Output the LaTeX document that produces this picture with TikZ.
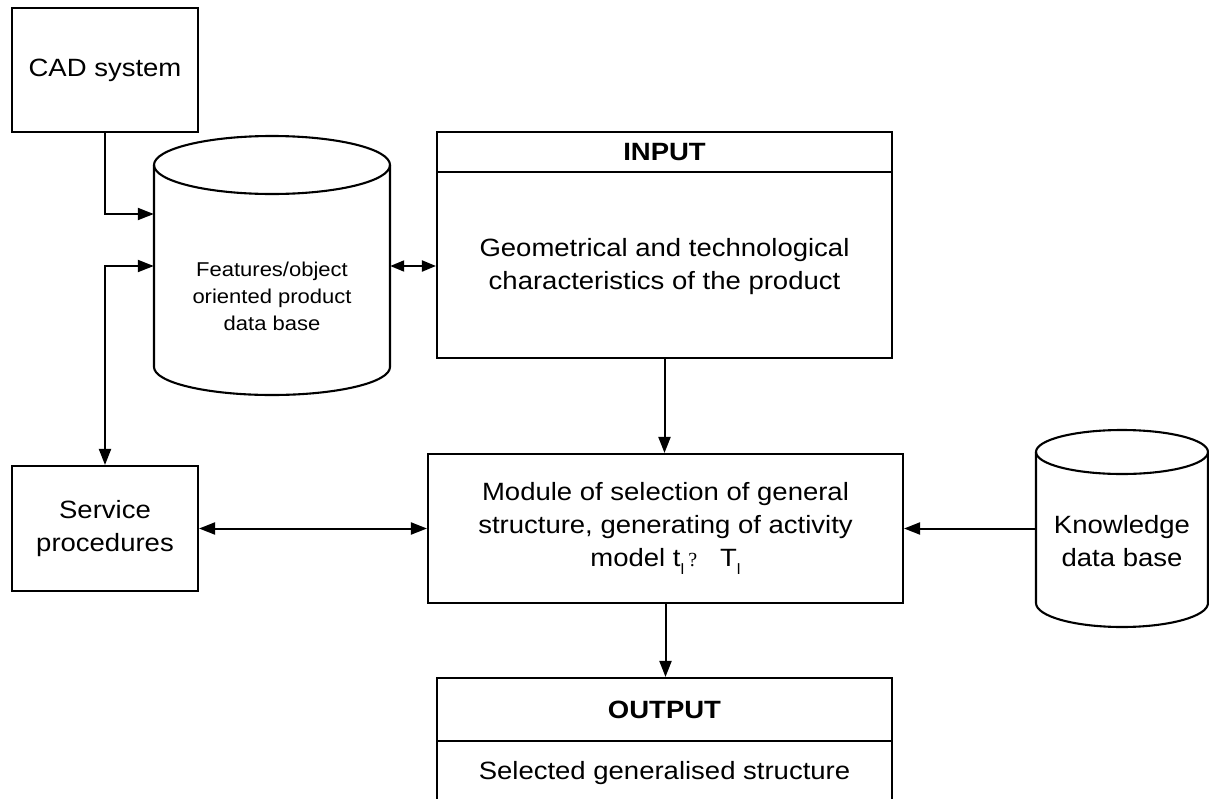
\documentclass[tikz,border=0pt]{standalone}
\usepackage{fontspec}
\setmainfont{Liberation Sans}[FakeStretch=1.1]
\newfontfamily\qfont{Liberation Serif}
\usetikzlibrary{arrows.meta}
\newcommand{\subl}{\raisebox{-8pt}{\fontsize{15}{15}\selectfont l}}
\begin{document}
\begin{tikzpicture}[x=1pt,y=-1pt,
  box/.style={draw, line width=2.1pt, inner sep=0pt, align=center},
  ghost/.style={inner sep=0pt},
  cyl/.style={line width=2.1pt},
  conn/.style={line width=2pt},
  tipend/.style={conn,-{Triangle[length=16pt,width=12pt]}},
  tipboth/.style={conn,{Triangle[length=16pt,width=12pt]}-{Triangle[length=16pt,width=12pt]}},
  tipshort/.style={conn,{Triangle[length=14pt,width=11pt]}-{Triangle[length=14pt,width=11pt]}},
  big/.style={font=\fontsize{25}{33}\selectfont, align=center},
  small/.style={font=\fontsize{20}{27}\selectfont, align=center}]
\clip (0,0) rectangle (1209,798);
\fill[white] (0,0) rectangle (1209,798);

% CAD system
\node[box, big, minimum width=186pt, minimum height=124pt] (cad) at (105,70) {CAD system};

% Features cylinder
\draw[cyl] (154,165) -- (154,367) arc[start angle=180,end angle=360,x radius=118pt,y radius=28pt] -- (390,165);
\draw[cyl] (272,165) ellipse[x radius=118pt, y radius=29pt];
\node[ghost, minimum width=236pt, minimum height=202pt] (db) at (272,266) {};
\node[small] (dbtext) at (272,296) {Features/object\\oriented product\\data base};

% INPUT box
\node[box, minimum width=455pt, minimum height=226pt] (inp) at (664.5,245) {};
\draw[line width=2.1pt] (437,172) -- (892,172);
\node[big] (inptitle) at (664.5,152) {\textbf{INPUT}};
\node[big] (inptext) at (664.5,267) {Geometrical and technological\\characteristics of the product};

% Service procedures
\node[box, big, minimum width=186pt, minimum height=125pt] (svc) at (105,528.5) {Service\\procedures};

% Module
\node[box, big, minimum width=475pt, minimum height=149pt] (mod) at (665.5,528.5)
  {Module of selection of general\\structure, generating of activity\\model t\subl\,{\qfont\fontsize{20}{20}\selectfont ?}\ \ \ T\subl};

% Knowledge cylinder
\draw[cyl] (1036,452) -- (1036,603) arc[start angle=180,end angle=360,x radius=86pt,y radius=24pt] -- (1208,452);
\draw[cyl] (1122,452) ellipse[x radius=86pt, y radius=22pt];
\node[ghost, minimum width=172pt, minimum height=153pt] (kdb) at (1122,528.5) {};
\node[big] (kdbtext) at (1122,541) {Knowledge\\data base};

% OUTPUT box
\node[box, minimum width=455pt, minimum height=142pt] (out) at (664.5,749) {};
\draw[line width=2.1pt] (437,741) -- (892,741);
\node[big] (outtitle) at (664.5,710) {\textbf{OUTPUT}};
\node[big] (outtext) at (664.5,773) {Selected generalised structure};

% connectors
\draw[tipend] (cad.south) |- ([yshift=52pt]db.west);
\draw[tipboth] (svc.north) |- (db.west);
\draw[tipshort] (db.east) -- (db.east -| inp.west);
\draw[tipend] (inp.south) -- (inp.south |- mod.north);
\draw[tipboth] (svc.east) -- (svc.east -| mod.west);
\draw[tipend] (kdb.west) -- (kdb.west -| mod.east);
\draw[tipend] (mod.south) -- (mod.south |- out.north);
\end{tikzpicture}
\end{document}
